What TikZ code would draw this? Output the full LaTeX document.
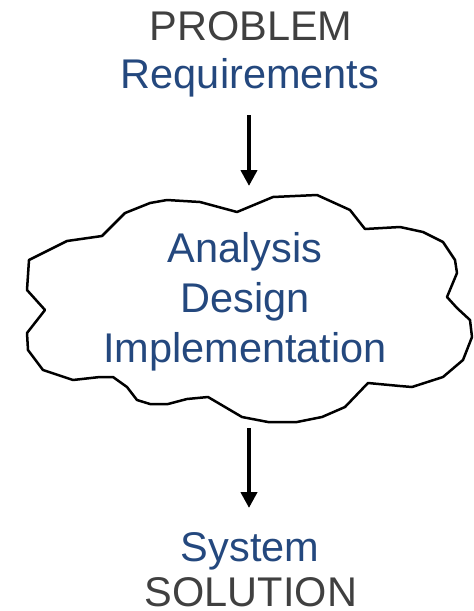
\documentclass[tikz,border=0pt]{standalone}
\usepackage{fontspec}
\setmainfont{Liberation Sans}
\usetikzlibrary{arrows.meta}
\definecolor{txtgray}{HTML}{404040}
\definecolor{txtblue}{HTML}{24487E}
\tikzset{
  lbl/.style={anchor=base, inner sep=0pt, font=\fontsize{41.5}{48}\selectfont},
  graylbl/.style={lbl, text=txtgray},
  bluelbl/.style={lbl, text=txtblue},
  flow/.style={line width=4pt, -{Triangle[width=16pt,length=16pt]}},
  cloudline/.style={line width=2.5pt, line join=round, draw=black, fill=white}
}
\begin{document}
\begin{tikzpicture}[x=1pt,y=-1pt]
\useasboundingbox (0,0) rectangle (474,611);
\draw[cloudline] (237,212)--(273,197)--(317,195)--(350,210)--(365,229)--(400,227)--(423,232)--(443,242)--(455,260)--(457,273)--(447,297)--(457,308)--(470,320)--(472,337)--(463,360)--(443,377)--(412,387)--(400,386)--(368,383)--(345,407)--(322,417)--(297,422)--(268,422)--(242,417)--(208,397)--(187,399)--(168,404)--(150,404)--(137,400)--(127,387)--(113,377)--(100,377)--(73,380)--(43,370)--(28,350)--(27,333)--(45,310)--(27,290)--(29,260)--(67,241)--(102,236)--(125,213)--(150,203)--(167,200)--(200,202)--cycle;
\node[graylbl] (problem) at (251,40) {PROBLEM};
\node[bluelbl] (req) at (250,88) {Requirements};
\node[bluelbl] (analysis) at (245,262) {Analysis};
\node[bluelbl] (design) at (245,312) {Design};
\node[bluelbl] (impl) at (245,362) {Implementation};
\node[bluelbl] (system) at (250,561) {System};
\node[graylbl, text depth=0pt] (solution) at (251,606) {SOLUTION};
\coordinate (a1s) at (249,115);
\coordinate (a1e) at (249,186);
\coordinate (a2s) at (249,428);
\coordinate (a2e) at (249,508);
\draw[flow] (a1s) -- (a1e);
\draw[flow] (a2s) -- (a2e);
\end{tikzpicture}
\end{document}
